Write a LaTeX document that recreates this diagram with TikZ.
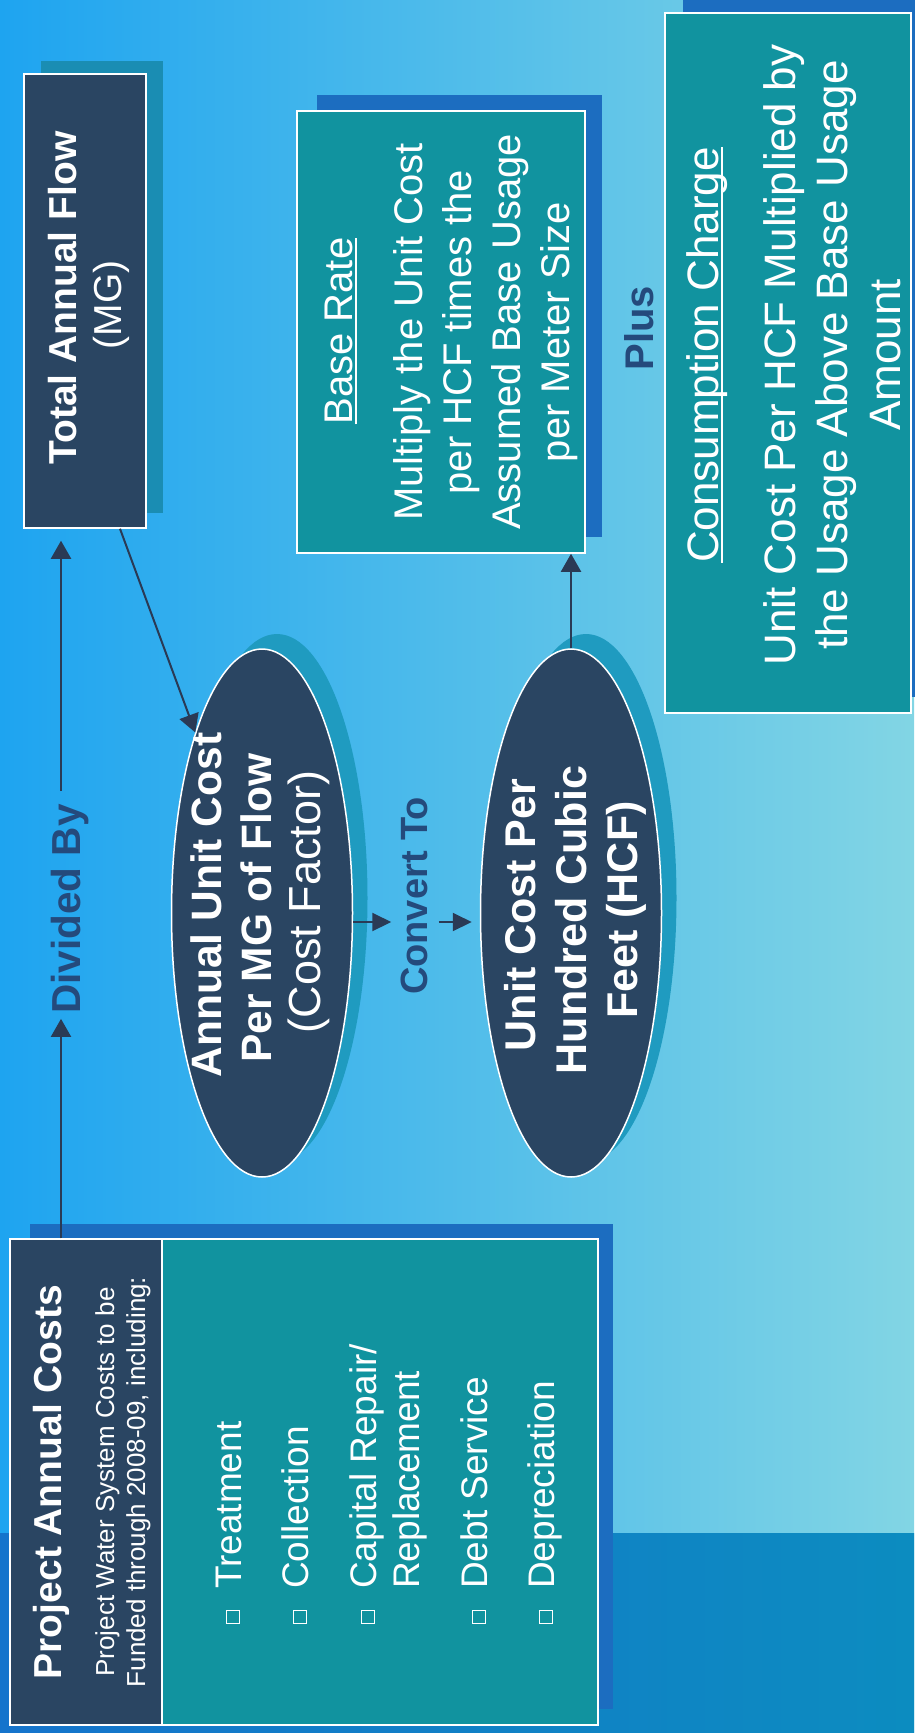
\documentclass[tikz,border=0pt]{standalone}
\usepackage{fontspec}
\setmainfont{Liberation Sans}
\usetikzlibrary{arrows.meta,shapes.geometric,calc}
\definecolor{navy}{HTML}{2A4562}
\definecolor{tealbox}{HTML}{11939F}
\definecolor{bgl}{HTML}{1EA4F0}
\definecolor{bgr}{HTML}{82D5E4}
\definecolor{stripl}{HTML}{1574CC}
\definecolor{stripr}{HTML}{0C8CC0}
\definecolor{shblue}{HTML}{1C6DC0}
\definecolor{shteal}{HTML}{1A8DB3}
\definecolor{shell}{HTML}{1F9BC0}
\definecolor{lblc}{HTML}{244A7C}
\definecolor{linec}{HTML}{2A3A55}
\newcommand\fs[1]{\fontsize{#1}{#1}\selectfont}
\newcommand\ulbar[1]{\setbox0=\hbox{#1}\rlap{\rule[-5pt]{\wd0}{2.5pt}}\box0}
\begin{document}
\begin{tikzpicture}[x=1pt,y=-1pt,
  tl/.style={rotate=90, anchor=base, inner sep=0pt, text=white},
  lbl/.style={rotate=90, anchor=base, inner sep=0pt, text=lblc},
  boxs/.style={draw=white, line width=1.5pt, inner sep=0pt},
  bul/.style={draw=white, line width=1.8pt, minimum size=13pt, inner sep=0pt},
  arr/.style={draw=linec, line width=2pt, -{Triangle[width=20pt,length=18pt]}},
  arrs/.style={draw=linec, line width=2pt, -{Triangle[width=18pt,length=19pt]}}]
\useasboundingbox (0,0) rectangle (914,1733);
% background
\shade[left color=bgl, right color=bgr] (0,0) rectangle (914,1733);
\shade[left color=stripl, right color=stripr] (0,1533) rectangle (914,1733);
% shadows
\fill[shteal] (41,61) rectangle (163,513);
\fill[shblue] (30,1224) rectangle (613,1709);
\fill[shblue] (317,95) rectangle (602,537);
\fill[shblue] (683,-3) rectangle (929,697);
\fill[shell] (277,898) ellipse [x radius=90.5pt, y radius=264pt];
\fill[shell] (586,898) ellipse [x radius=90.5pt, y radius=264pt];
% boxes
\node[boxs, fill=navy, minimum width=122pt, minimum height=454pt] (taf) at (85,301) {};
\node[boxs, fill=tealbox, minimum width=436pt, minimum height=486pt] (pacb) at (380,1482) {};
\node[boxs, fill=navy, minimum width=152pt, minimum height=486pt] (pach) at (86,1482) {};
\node[boxs, fill=tealbox, minimum width=288pt, minimum height=442pt] (br) at (441,332) {};
\node[boxs, fill=tealbox, minimum width=246pt, minimum height=700pt] (cc) at (788,363) {};
\node[boxs, ellipse, fill=navy, minimum width=181pt, minimum height=528pt] (e1) at (262,913) {};
\node[boxs, ellipse, fill=navy, minimum width=181pt, minimum height=528pt] (e2) at (571,913) {};
% Total Annual Flow
\node[tl, font=\bfseries\fs{39}] (taft1) at (76,298) {Total Annual Flow};
\node[tl, font=\fs{39}] (taft2) at (121,305) {(MG)};
% Project Annual Costs
\node[tl, font=\bfseries\fs{39}] (pact) at (61,1482) {Project Annual Costs};
\node[tl, font=\fs{26}] (pacs1) at (114,1482) {Project Water System Costs to be};
\node[tl, font=\fs{26}] (pacs2) at (145,1482) {Funded through 2008-09, including:};
\node[tl, anchor=base west, font=\fs{37}] (bt1) at (241,1589) {Treatment};
\node[tl, anchor=base west, font=\fs{37}] (bt2) at (308,1589) {Collection};
\node[tl, anchor=base west, font=\fs{37}] (bt3) at (376,1589) {Capital Repair/};
\node[tl, anchor=base west, font=\fs{37}] (bt4) at (419,1589) {Replacement};
\node[tl, anchor=base west, font=\fs{37}] (bt5) at (487,1589) {Debt Service};
\node[tl, anchor=base west, font=\fs{37}] (bt6) at (554,1589) {Depreciation};
\node[bul] (bs1) at (233,1617) {};
\node[bul] (bs2) at (300,1617) {};
\node[bul] (bs3) at (368,1617) {};
\node[bul] (bs5) at (479,1617) {};
\node[bul] (bs6) at (546,1617) {};
% ellipses text
\node[tl, font=\bfseries\fs{42.5}] (e1t1) at (221,905) {Annual Unit Cost};
\node[tl, font=\bfseries\fs{42.5}] (e1t2) at (271,908) {Per MG of Flow};
\node[tl, font=\fs{45}] (e1t3) at (320,902) {(Cost Factor)};
\node[tl, font=\bfseries\fs{43}] (e2t1) at (535,915) {Unit Cost Per};
\node[tl, font=\bfseries\fs{43}] (e2t2) at (586,920) {Hundred Cubic};
\node[tl, font=\bfseries\fs{43}] (e2t3) at (637,910) {Feet (HCF)};
% Base Rate
\node[tl, font=\fs{40}] (brt) at (352,331) {\ulbar{Base Rate}};
\node[tl, font=\fs{40}] (br1) at (422,332) {Multiply the Unit Cost};
\node[tl, font=\fs{40}] (br2) at (471,332) {per HCF times the};
\node[tl, font=\fs{40}] (br3) at (520,332) {Assumed Base Usage};
\node[tl, font=\fs{40}] (br4) at (569,332) {per Meter Size};
% Consumption Charge
\node[tl, font=\fs{44}] (cct) at (718,355) {\ulbar{Consumption Charge}};
\node[tl, font=\fs{44}] (cc1) at (795,355) {Unit Cost Per HCF Multiplied by};
\node[tl, font=\fs{44}] (cc2) at (847,355) {the Usage Above Base Usage};
\node[tl, font=\fs{44}] (cc3) at (900,355) {Amount};
% labels
\node[lbl, font=\bfseries\fs{40.5}] (divby) at (80,909) {Divided By};
\node[lbl, font=\bfseries\fs{38}] (cvt) at (427,896) {Convert To};
\node[lbl, font=\bfseries\fs{40}] (plus) at (653,328) {Plus};
% connectors
\coordinate (dl) at (61,0);
\coordinate (ca) at (0,922);
\coordinate (tx) at (120,0);
\draw[arr, shorten >=5pt] (pach.north -| dl) -- (divby.west -| dl);
\draw[arr, shorten <=13pt, shorten >=12pt] (divby.east -| dl) -- (taf.south -| dl);
\draw[arr] (taf.south -| tx) -- (e1);
\draw[arrs, shorten >=9pt] (e1.east |- ca) -- (cvt.north |- ca);
\draw[arrs, shorten <=11pt, shorten >=8pt] (cvt.south |- ca) -- (e2.west |- ca);
\draw[arr] (e2.north) -- (e2.north |- br.south);
\end{tikzpicture}
\end{document}
